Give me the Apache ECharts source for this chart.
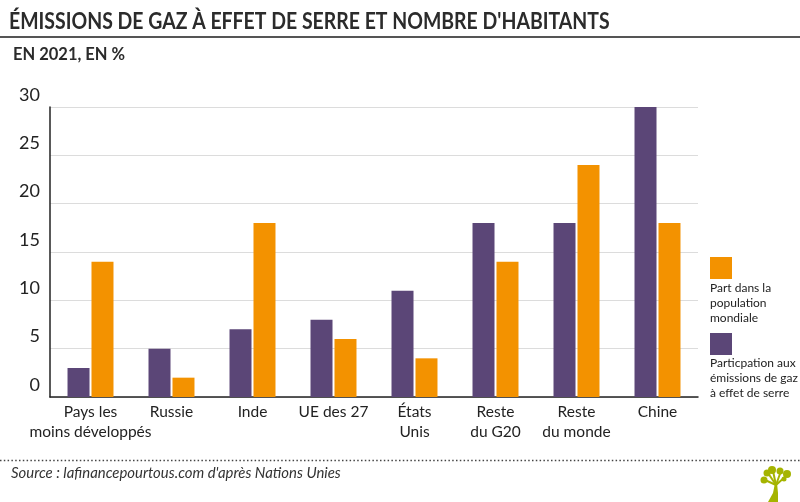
<!doctype html>
<html>
<head>
<meta charset="UTF-8">
<title>Émissions de gaz à effet de serre</title>
<style>
	html, body { margin: 0; padding: 0; background: #fff; }
	#chart { width: 800px; height: 502px; }
</style>
</head>
<body>
<div id="chart"></div>
<script src="https://cdn.jsdelivr.net/npm/echarts@6/dist/echarts.min.js"></script>
<script>
	var categories = ['Pays les\nmoins développés', 'Russie', 'Inde', 'UE des 27', 'États\nUnis', 'Reste\ndu G20', 'Reste\ndu monde', 'Chine'];
	var emissions = [3, 5, 7, 8, 11, 18, 18, 30];
	var population = [14, 2, 18, 6, 4, 14, 24, 18];
	var yTicks = [0, 5, 10, 15, 20, 25, 30];

	var PURPLE = '#5b4677';
	var ORANGE = '#f39200';
	var TEXT = '#222222';
	var GREEN = '#a5b400';
	var FONT = 'Lato, "Open Sans", sans-serif';

	var myChart = echarts.init(document.getElementById('chart'), null, { renderer: 'canvas' });

	//petit texte de légende
	function legendText(y, txt) {
		return {
			type: 'text', x: 710, y: y,
			style: { text: txt, font: '12px ' + FONT, fill: TEXT, lineHeight: 15 }
		};
	}

	//branche du logo
	function branch(x, y) {
		return { type: 'line', shape: { x1: 17, y1: 20, x2: x, y2: y }, style: { stroke: GREEN, lineWidth: 2 } };
	}

	//feuille du logo
	function leaf(x, y, r) {
		return { type: 'circle', shape: { cx: x, cy: y, r: r }, style: { fill: GREEN } };
	}

	var option = {
		backgroundColor: '#fff',
		animation: false,
		textStyle: { fontFamily: FONT },
		grid: { left: 50, right: 102, top: 107, bottom: 105 },
		xAxis: {
			type: 'category',
			data: categories,
			axisTick: { show: false },
			axisLine: { lineStyle: { color: '#222', width: 1.5 } },
			axisLabel: { color: TEXT, fontSize: 15.5, lineHeight: 20, margin: 5, interval: 0 }
		},
		yAxis: {
			type: 'value',
			min: yTicks[0],
			max: yTicks[yTicks.length - 1],
			interval: yTicks[1] - yTicks[0],
			axisTick: { show: false },
			axisLine: { show: true, lineStyle: { color: '#222', width: 1.5 } },
			splitLine: { lineStyle: { color: '#dcdcdc', width: 1 } },
			axisLabel: {
				color: TEXT, fontSize: 18, margin: 10,
				verticalAlign: 'bottom', padding: [0, 0, 3, 0]
			}
		},
		series: [
			{
				name: 'Particpation aux émissions de gaz à effet de serre',
				type: 'bar', data: emissions, barWidth: 22, barGap: '9%',
				itemStyle: { color: PURPLE }
			},
			{
				name: 'Part dans la population mondiale',
				type: 'bar', data: population, barWidth: 22, barGap: '9%',
				itemStyle: { color: ORANGE }
			}
		],
		graphic: [
			{
				type: 'text', x: 9, y: 11, scaleX: 0.884,
				style: { text: "ÉMISSIONS DE GAZ À EFFET DE SERRE ET NOMBRE D'HABITANTS", font: '700 22px ' + FONT, fill: '#2b2b2b' }
			},
			{ type: 'rect', x: 0, y: 36, shape: { width: 800, height: 2 }, style: { fill: '#555' } },
			{
				type: 'text', x: 13, y: 46,
				style: { text: 'EN 2021, EN %', font: '700 16.5px ' + FONT, fill: '#2b2b2b' }
			},
			{ type: 'rect', x: 710, y: 257, shape: { width: 22, height: 22 }, style: { fill: ORANGE } },
			legendText(281, 'Part dans la\npopulation\nmondiale'),
			{ type: 'rect', x: 710, y: 333, shape: { width: 22, height: 22 }, style: { fill: PURPLE } },
			legendText(356, 'Particpation aux\némissions de gaz\nà effet de serre'),
			{
				type: 'line', shape: { x1: 0, y1: 460.5, x2: 800, y2: 460.5 },
				style: { stroke: '#444', lineWidth: 1.5, lineDash: [1.5, 2.3] }
			},
			{
				type: 'text', x: 11, y: 466,
				style: { text: "Source : lafinancepourtous.com d'après Nations Unies", font: 'italic 14.9px ' + FONT, fill: '#333' }
			},
			//logo arbre
			{
				type: 'group', x: 759, y: 465,
				children: [
					{ type: 'polygon', shape: { points: [[9, 37], [14, 28], [16, 18], [18, 18], [19, 28], [19, 37]] }, style: { fill: GREEN } },
					branch(9, 8), branch(14, 6), branch(22, 6), branch(27, 11), branch(6, 15),
					leaf(8, 8, 3.5), leaf(13, 5, 4), leaf(21, 6, 3.5), leaf(28, 9, 4), leaf(5, 15, 3.5), leaf(25, 14, 2.5)
				]
			}
		]
	};

	myChart.setOption(option);
</script>
</body>
</html>
